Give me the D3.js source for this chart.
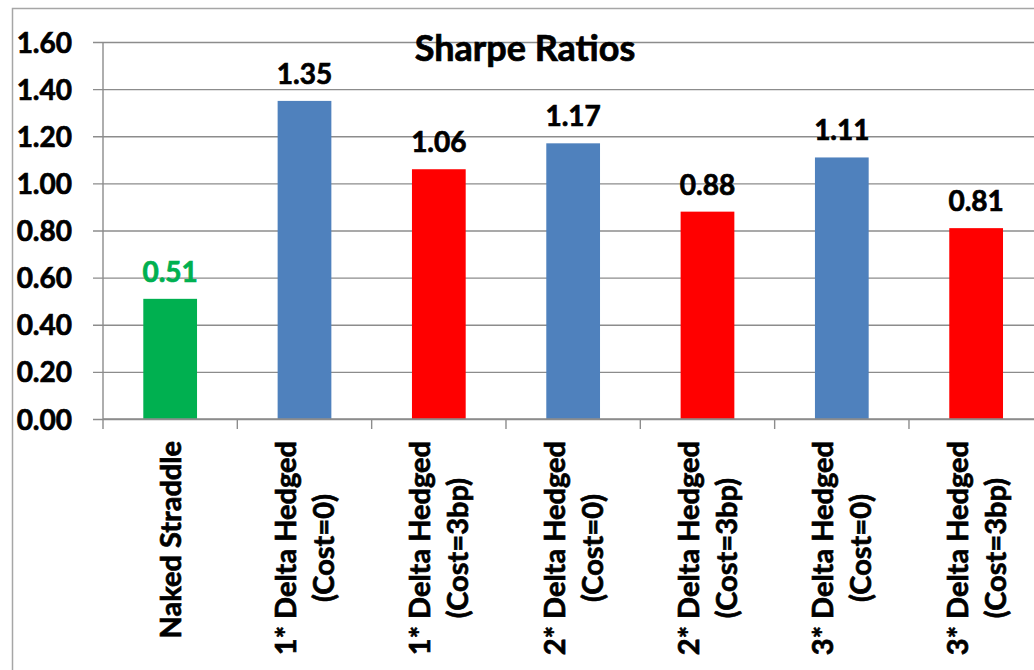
<!DOCTYPE html>
<html>
<head>
<meta charset="utf-8">
<script src="https://cdn.jsdelivr.net/npm/d3@7"></script>
<style>
  html, body { margin: 0; padding: 0; background: #ffffff; }
  svg { display: block; }
  text { font-family: Lato, "Open Sans", sans-serif; font-weight: bold; stroke-width: 0.7px; }
</style>
</head>
<body>
<svg id="chart" width="1034" height="670"></svg>
<script>
// ---- data ----
const categories = [
  ["Naked Straddle"],
  ["1* Delta Hedged", "(Cost=0)"],
  ["1* Delta Hedged", "(Cost=3bp)"],
  ["2* Delta Hedged", "(Cost=0)"],
  ["2* Delta Hedged", "(Cost=3bp)"],
  ["3* Delta Hedged", "(Cost=0)"],
  ["3* Delta Hedged", "(Cost=3bp)"]
];
const values = [0.51, 1.35, 1.06, 1.17, 0.88, 1.11, 0.81];
const valueLabels = ["0.51", "1.35", "1.06", "1.17", "0.88", "1.11", "0.81"];
const barKinds = ["naked", "cost0", "cost3", "cost0", "cost3", "cost0", "cost3"];
const yTicks = [0, 0.2, 0.4, 0.6, 0.8, 1.0, 1.2, 1.4, 1.6];
const chartTitle = "Sharpe Ratios";

// ---- styles ----
const colorOf = { naked: "#00B050", cost0: "#4F81BD", cost3: "#FF0000" };
const labelColorOf = { naked: "#00B050", cost0: "#000000", cost3: "#000000" };
const gridColor = "#8c8c8c";

const svg = d3.select("#chart");
const W = 1034, H = 670;

// outer chart border (cropped on right / bottom)
svg.append("path")
  .attr("d", `M12.5,${H} L12.5,8.5 L${W},8.5`)
  .attr("fill", "none").attr("stroke", "#a6a6a6").attr("stroke-width", 1.5);

const plotLeft = 103, plotTop = 42, plotBottom = 419;
const band = 134.33;
const x = d3.scaleBand()
  .domain(d3.range(categories.length))
  .range([plotLeft, plotLeft + band * categories.length])
  .paddingInner(0).paddingOuter(0);
const y = d3.scaleLinear().domain([0, 1.6]).range([plotBottom, plotTop]);

// gridlines + y ticks
const yAxis = d3.axisLeft(y).tickValues(yTicks).tickSize(-(W - plotLeft)).tickSizeOuter(0)
  .tickFormat(d => d.toFixed(2)).tickPadding(31);
const gy = svg.append("g").attr("transform", `translate(${plotLeft},0)`).call(yAxis);
gy.select(".domain").remove();
gy.selectAll(".tick line").attr("stroke", gridColor).attr("stroke-width", 1.4)
  .attr("x1", -10);
gy.selectAll(".tick text")
  .attr("fill", "#000").attr("stroke", "#000").style("font-size", "28px").attr("dy", "0.36em");

// y axis line
svg.append("line").attr("x1", plotLeft).attr("x2", plotLeft).attr("y1", plotTop).attr("y2", plotBottom + 10)
  .attr("stroke", gridColor).attr("stroke-width", 1.4);

// x axis category boundary ticks
const bounds = d3.range(1, categories.length + 1).map(i => plotLeft + x.step() * i);
svg.append("g").selectAll("line").data(bounds).join("line")
  .attr("x1", d => d).attr("x2", d => d).attr("y1", plotBottom).attr("y2", plotBottom + 10)
  .attr("stroke", gridColor).attr("stroke-width", 1.4);

// bars
const barW = x.bandwidth() * 0.40;
svg.append("g").selectAll("rect").data(values).join("rect")
  .attr("x", (d, i) => x(i) + x.bandwidth() / 2 - barW / 2)
  .attr("width", barW)
  .attr("y", d => y(d))
  .attr("height", d => y(0) - y(d))
  .attr("fill", (d, i) => colorOf[barKinds[i]]);

// redraw x axis baseline on top
svg.append("line").attr("x1", plotLeft).attr("x2", W).attr("y1", plotBottom).attr("y2", plotBottom)
  .attr("stroke", gridColor).attr("stroke-width", 1.4);

// value labels
svg.append("g").selectAll("text").data(values).join("text")
  .attr("x", (d, i) => x(i) + x.bandwidth() / 2)
  .attr("y", d => y(d) - 17)
  .attr("text-anchor", "middle")
  .style("font-size", "28px")
  .attr("fill", (d, i) => labelColorOf[barKinds[i]])
  .attr("stroke", (d, i) => labelColorOf[barKinds[i]])
  .text((d, i) => valueLabels[i]);

// title
svg.append("text").attr("x", 525).attr("y", 61).attr("text-anchor", "middle")
  .style("font-size", "36px").attr("fill", "#000").attr("stroke", "#000").text(chartTitle);

// category labels (rotated)
const fs = 29, lineH = 38, cap = 0.72 * fs, endY = 441;
categories.forEach((lines, i) => {
  const g = svg.append("g")
    .attr("transform", `translate(${x(i) + x.bandwidth() / 2},${endY}) rotate(-90)`);
  const n = lines.length;
  const b1 = (cap - (n - 1) * lineH) / 2;
  const ts = lines.map((t, k) => g.append("text")
    .style("font-size", fs + "px").attr("fill", "#000").attr("stroke", "#000")
    .attr("y", b1 + k * lineH).text(t));
  const maxLen = d3.max(ts, t => t.node().getComputedTextLength());
  ts.forEach(t => t.attr("x", -maxLen / 2).attr("text-anchor", "middle"));
});
</script>
</body>
</html>
